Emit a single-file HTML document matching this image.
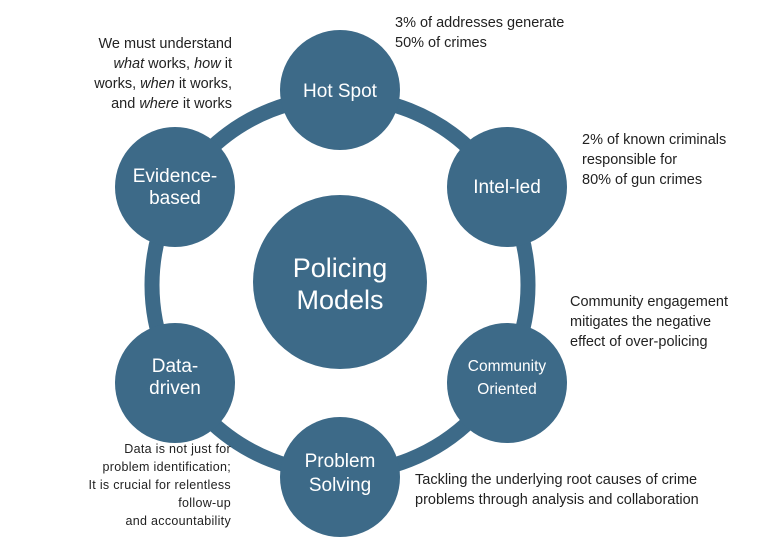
<!DOCTYPE html>
<html><head><style>
body{margin:0;background:#fff;width:768px;height:555px;overflow:hidden;font-family:"Liberation Sans",sans-serif;}
.t{position:absolute;font-size:14.5px;color:#222;line-height:20px;}
</style></head><body>
<svg width="768" height="555" style="position:absolute;left:0;top:0">
<g fill="#3d6a88">
<circle cx="340" cy="285" r="188" fill="none" stroke="#3d6a88" stroke-width="15"/>
<circle cx="340" cy="282" r="87"/>
<circle cx="340" cy="90" r="60"/>
<circle cx="507" cy="187" r="60"/>
<circle cx="175" cy="187" r="60"/>
<circle cx="175" cy="383" r="60"/>
<circle cx="507" cy="383" r="60"/>
<circle cx="340" cy="477" r="60"/>
</g>
<g fill="#fff" text-anchor="middle" font-family="Liberation Sans, sans-serif">
<text x="340" y="277" font-size="27">Policing</text>
<text x="340" y="309" font-size="27">Models</text>
<text x="340" y="97" font-size="19">Hot Spot</text>
<text x="507" y="193" font-size="19">Intel-led</text>
<text x="175" y="182" font-size="19">Evidence-</text>
<text x="175" y="204" font-size="19">based</text>
<text x="175" y="372" font-size="19">Data-</text>
<text x="175" y="394" font-size="19">driven</text>
<text x="507" y="371" font-size="15.5">Community</text>
<text x="507" y="394" font-size="15.5">Oriented</text>
<text x="340" y="467" font-size="19">Problem</text>
<text x="340" y="491" font-size="19">Solving</text>
</g>
</svg>
<div class="t" style="right:536px;top:34px;text-align:right;">We must understand<br><i>what</i> works, <i>how</i> it<br>works, <i>when</i> it works,<br>and <i>where</i> it works</div>
<div class="t" style="left:395px;top:13px;">3% of addresses generate<br>50% of crimes</div>
<div class="t" style="left:582px;top:130px;">2% of known criminals<br>responsible for<br>80% of gun crimes</div>
<div class="t" style="left:570px;top:292px;">Community engagement<br>mitigates the negative<br>effect of over-policing</div>
<div class="t" style="left:415px;top:470px;">Tackling the underlying root causes of crime<br>problems through analysis and collaboration</div>
<div class="t" style="right:537px;top:440px;text-align:right;font-size:12.5px;line-height:18px;letter-spacing:0.3px;">Data is not just for<br>problem identification;<br>It is crucial for relentless<br>follow-up<br>and accountability</div>
</body></html>
